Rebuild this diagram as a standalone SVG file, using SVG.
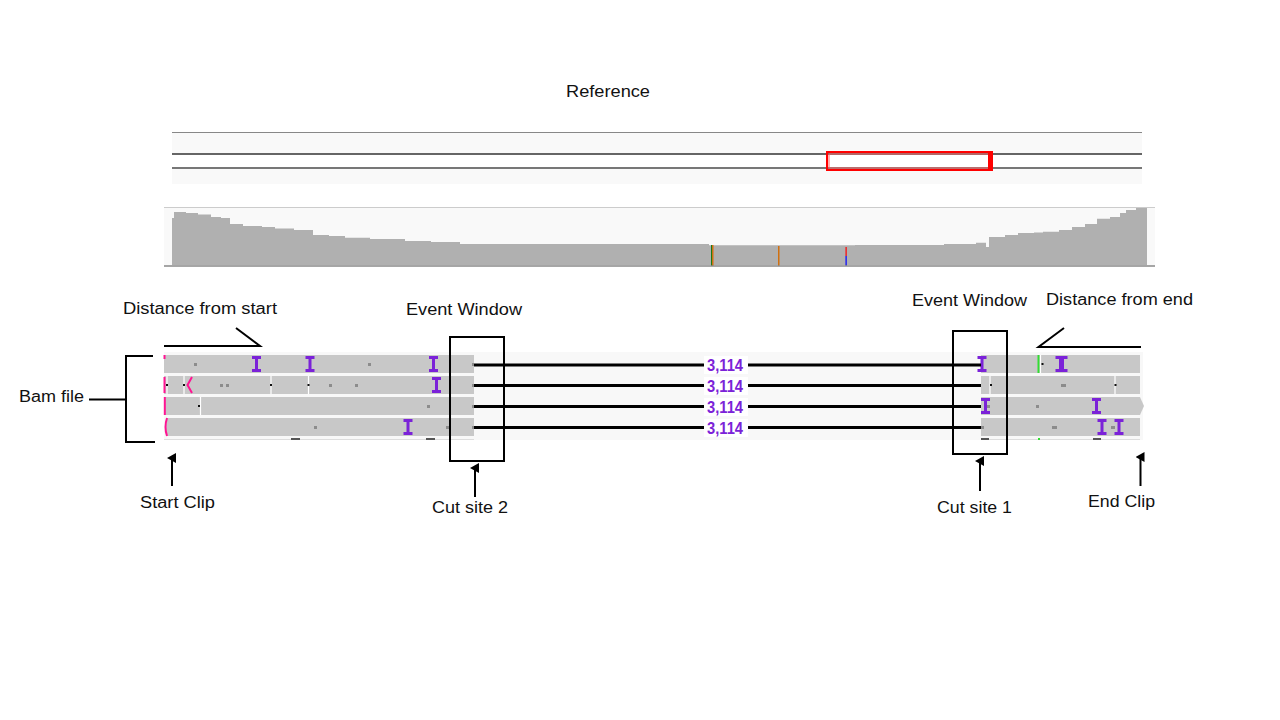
<svg xmlns="http://www.w3.org/2000/svg" xmlns:xlink="http://www.w3.org/1999/xlink" width="1280" height="720" viewBox="0 0 1280 720">
<style>
.lbl{font-family:"Liberation Sans",Arial,sans-serif;font-size:16px;fill:#111;}
.num{font-family:"Liberation Sans",Arial,sans-serif;font-size:16px;font-weight:bold;fill:#7b22d8;text-anchor:middle;}
.read{fill:#c8c8c8;}
.ln{stroke:#000;stroke-width:2;fill:none;}
.dist{stroke:#000;stroke-width:3;}
.gd{fill:#8c8c8c;}
.bd{fill:#111;}
.sep{stroke:#fff;stroke-width:1.2;}
.pink{stroke:#ff1493;stroke-width:2;fill:none;}
.ibar{fill:#7b22d8;}
</style>
<defs>
<marker id="arr" markerWidth="10" markerHeight="10" refX="5" refY="5" orient="auto" markerUnits="userSpaceOnUse">
<path d="M0,9 L5,0 L10,9 Z" fill="#000"/>
</marker>
<g id="ib"><rect class="ibar" x="-4.5" y="0" width="9" height="3"/><rect class="ibar" x="-1.5" y="0" width="3" height="16"/><rect class="ibar" x="-4.5" y="13" width="9" height="3"/></g>
<g id="ibw"><rect class="ibar" x="-6" y="0" width="12" height="3"/><rect class="ibar" x="-2.5" y="0" width="5" height="16"/><rect class="ibar" x="-6" y="13" width="12" height="3"/></g>
</defs>
<rect width="1280" height="720" fill="#fff"/>

<g id="reference-label"><text class="lbl" x="608" y="96.5" text-anchor="middle" textLength="84" lengthAdjust="spacingAndGlyphs">Reference</text></g>

<g id="reference-track">
<rect x="172" y="132" width="970" height="52" fill="#f9f9f9"/>
<line x1="172" y1="132.5" x2="1142" y2="132.5" stroke="#888" stroke-width="1"/>
<rect x="172" y="154" width="970" height="14" fill="#fff"/>
<line x1="172" y1="154" x2="1142" y2="154" stroke="#333" stroke-width="1.5"/>
<line x1="172" y1="168" x2="1142" y2="168" stroke="#777" stroke-width="2"/>
<rect x="827" y="152" width="165" height="18" fill="none" stroke="#ff0000" stroke-width="2"/>
<rect x="829" y="154" width="160" height="14" fill="none" stroke="#ff6666" stroke-width="1"/>
<rect x="988" y="152" width="4.5" height="18" fill="#ff0000"/>
</g>

<g id="coverage-track">
<rect x="164" y="207" width="991" height="59" fill="#f9f9f9"/>
<line x1="164" y1="207.5" x2="1155" y2="207.5" stroke="#ccc" stroke-width="1"/>
<path fill="#b0b0b0" d="M172,265 V218 H174 V212 H186 V213 H198 V214.5 H211 V217 H221 V218 H230 V224 H243 V226 H262 V227 H275 V228.5 H294 V230 H313 V235 H329 V236 H345 V237.7 H370 V239 H405 V241 H431 V242 H460 V244 H709 V245.3 H855 V245 H944 V244 H976 V242.7 H986 V247 H989 V237 H1005 V235 H1018 V233 H1034 V232.5 H1043 V231.7 H1059 V230 H1072 V227 H1085 V224 H1097 V218.7 H1110 V217 H1120 V213 H1126 V210 H1136 V208 H1147 V265 Z"/>
<rect x="711" y="245" width="1" height="21" fill="#1a7a1a"/>
<rect x="712" y="245" width="1.5" height="21" fill="#d07010"/>
<rect x="778" y="246" width="1.5" height="20" fill="#d07010"/>
<rect x="845.5" y="247" width="1.2" height="9" fill="#ff0000"/>
<rect x="845.5" y="256" width="1.2" height="10" fill="#0000ff"/>
<line x1="164" y1="266" x2="1155" y2="266" stroke="#888" stroke-width="1.5"/>
</g>

<g id="bam-reads">
<rect x="164" y="352" width="979" height="88" fill="#f8f8f8"/>
<line x1="164" y1="439.5" x2="474" y2="439.5" stroke="#ddd" stroke-width="1"/>
<line x1="981" y1="439.5" x2="1140" y2="439.5" stroke="#ddd" stroke-width="1"/>
<rect class="read" x="164" y="355" width="310" height="18"/>
<rect class="read" x="164" y="376" width="310" height="18"/>
<rect class="read" x="164" y="397" width="310" height="18"/>
<path class="read" d="M167,418 H474 V436 H167 Q164,427 167,418 Z"/>
<line class="sep" x1="167" y1="376" x2="167" y2="394"/>
<line class="sep" x1="184" y1="376" x2="184" y2="394"/>
<line class="sep" x1="271" y1="376" x2="271" y2="394"/>
<line class="sep" x1="308.5" y1="376" x2="308.5" y2="394"/>
<line class="sep" x1="200.5" y1="397" x2="200.5" y2="415"/>
<rect class="bd" x="166" y="384" width="2" height="2"/>
<rect class="bd" x="183" y="384" width="2" height="2"/>
<rect class="bd" x="270" y="384" width="2" height="2"/>
<rect class="bd" x="307.5" y="384" width="2" height="2"/>
<rect class="bd" x="198" y="405" width="2" height="2"/>
<rect class="gd" x="194" y="363" width="3" height="3"/>
<rect class="gd" x="368" y="363" width="3" height="3"/>
<rect class="gd" x="472" y="363" width="2" height="3"/>
<rect class="gd" x="220" y="384" width="3" height="3"/>
<rect class="gd" x="226" y="384" width="3" height="3"/>
<rect class="gd" x="329" y="384" width="3" height="3"/>
<rect class="gd" x="355" y="384" width="3" height="3"/>
<rect class="gd" x="472" y="384" width="2" height="3"/>
<rect class="gd" x="427" y="405" width="3" height="3"/>
<rect class="gd" x="472" y="405" width="2" height="3"/>
<rect class="gd" x="314" y="426" width="3" height="3"/>
<rect class="gd" x="446" y="426" width="3" height="3"/>
<rect class="gd" x="472" y="426" width="2" height="3"/>
<line class="pink" x1="164.5" y1="355" x2="164.5" y2="359"/>
<line class="pink" x1="164.5" y1="377" x2="164.5" y2="393"/>
<polyline class="pink" points="192,377 187.5,385 192,393"/>
<line class="pink" x1="164.8" y1="397" x2="164.8" y2="415"/>
<path class="pink" d="M167,418 Q164,427 167,436"/>
<use xlink:href="#ib" x="256.5" y="356"/>
<use xlink:href="#ib" x="310" y="356"/>
<use xlink:href="#ib" x="433.5" y="356"/>
<use xlink:href="#ib" x="436.5" y="377"/>
<use xlink:href="#ib" x="408" y="419"/>
<rect x="291" y="438" width="9" height="2" fill="#555"/>
<rect x="426" y="438" width="9" height="2" fill="#555"/>
<rect class="read" x="981" y="355" width="159" height="18"/>
<rect class="read" x="981" y="376" width="159" height="18"/>
<path class="read" d="M981,397 H1140 L1144,406 L1140,415 H981 Z"/>
<rect class="read" x="981" y="418" width="159" height="18"/>
<rect x="1037.5" y="355" width="2" height="18" fill="#33dd33"/>
<line class="sep" x1="1040.5" y1="355" x2="1040.5" y2="373"/>
<rect class="bd" x="1041.5" y="363" width="2" height="2"/>
<line class="sep" x1="990" y1="376" x2="990" y2="394"/>
<line class="sep" x1="1115" y1="376" x2="1115" y2="394"/>
<rect class="bd" x="990" y="384" width="2" height="2"/>
<rect class="bd" x="1114.5" y="384" width="2" height="2"/>
<rect class="gd" x="1061" y="384" width="5" height="3"/>
<rect class="gd" x="986" y="405" width="4" height="3"/>
<rect class="gd" x="1036" y="405" width="3" height="3"/>
<rect class="gd" x="981" y="426" width="3" height="3"/>
<rect class="gd" x="1052" y="426" width="5" height="3"/>
<rect class="gd" x="1111" y="426" width="4" height="3"/>
<use xlink:href="#ib" x="982" y="356"/>
<use xlink:href="#ibw" x="1061.5" y="356"/>
<use xlink:href="#ib" x="985.5" y="398"/>
<use xlink:href="#ib" x="1096.5" y="398"/>
<use xlink:href="#ib" x="1102" y="419"/>
<use xlink:href="#ib" x="1119" y="419"/>
<rect x="981" y="438" width="8" height="2" fill="#555"/>
<rect x="1038" y="438" width="2" height="2" fill="#33dd33"/>
<rect x="1093" y="438" width="8" height="2" fill="#555"/>
</g>

<g id="distance-labels">
<rect x="704" y="356" width="44" height="18" fill="#fff"/>
<rect x="704" y="377" width="44" height="18" fill="#fff"/>
<rect x="704" y="398" width="44" height="18" fill="#fff"/>
<rect x="704" y="419" width="44" height="18" fill="#fff"/>
<text class="num" x="725" y="371" textLength="36" lengthAdjust="spacingAndGlyphs">3,114</text>
<text class="num" x="725" y="391.5" textLength="36" lengthAdjust="spacingAndGlyphs">3,114</text>
<text class="num" x="725" y="412.5" textLength="36" lengthAdjust="spacingAndGlyphs">3,114</text>
<text class="num" x="725" y="433.5" textLength="36" lengthAdjust="spacingAndGlyphs">3,114</text>
</g>

<g id="event-window-left">
<rect class="ln" x="450" y="337" width="54" height="124"/>
<text class="lbl" x="464" y="315" text-anchor="middle" textLength="116" lengthAdjust="spacingAndGlyphs">Event Window</text>
</g>
<g id="event-window-right">
<rect class="ln" x="953" y="331" width="54" height="123"/>
<text class="lbl" x="969.5" y="306" text-anchor="middle" textLength="115" lengthAdjust="spacingAndGlyphs">Event Window</text>
</g>
<g id="distance-from-start"><text class="lbl" x="200" y="314" text-anchor="middle" textLength="154" lengthAdjust="spacingAndGlyphs">Distance from start</text></g>
<g id="distance-from-end"><text class="lbl" x="1119.5" y="305" text-anchor="middle" textLength="147" lengthAdjust="spacingAndGlyphs">Distance from end</text></g>
<g id="bam-file"><text class="lbl" x="19" y="402" textLength="65" lengthAdjust="spacingAndGlyphs">Bam file</text></g>
<g id="start-clip"><text class="lbl" x="177.5" y="508" text-anchor="middle" textLength="75" lengthAdjust="spacingAndGlyphs">Start Clip</text></g>
<g id="cut-site-2"><text class="lbl" x="470" y="513" text-anchor="middle" textLength="76" lengthAdjust="spacingAndGlyphs">Cut site 2</text></g>
<g id="cut-site-1"><text class="lbl" x="974.5" y="513" text-anchor="middle" textLength="75" lengthAdjust="spacingAndGlyphs">Cut site 1</text></g>
<g id="end-clip"><text class="lbl" x="1121.5" y="507" text-anchor="middle" textLength="67" lengthAdjust="spacingAndGlyphs">End Clip</text></g>

<g id="connectors">
<line class="dist" x1="474" y1="365" x2="704" y2="365"/>
<line class="dist" x1="748" y1="365" x2="981" y2="365"/>
<line class="dist" x1="474" y1="385.5" x2="704" y2="385.5"/>
<line class="dist" x1="748" y1="385.5" x2="981" y2="385.5"/>
<line class="dist" x1="474" y1="406.5" x2="704" y2="406.5"/>
<line class="dist" x1="748" y1="406.5" x2="981" y2="406.5"/>
<line class="dist" x1="474" y1="427.5" x2="704" y2="427.5"/>
<line class="dist" x1="748" y1="427.5" x2="981" y2="427.5"/>
<path class="ln" d="M164,346 H260 L236,328"/>
<path class="ln" d="M1141,347 H1038.5 L1064,328"/>
<path class="ln" d="M153,356 H126 V442 H155"/>
<line class="ln" x1="89" y1="399.5" x2="126" y2="399.5"/>
<line class="ln" x1="172" y1="486" x2="172" y2="458" marker-end="url(#arr)"/>
<line class="ln" x1="475" y1="497" x2="475" y2="468" marker-end="url(#arr)"/>
<line class="ln" x1="980" y1="491" x2="980" y2="461" marker-end="url(#arr)"/>
<line class="ln" x1="1140.5" y1="486" x2="1140.5" y2="457" marker-end="url(#arr)"/>
</g>
</svg>
